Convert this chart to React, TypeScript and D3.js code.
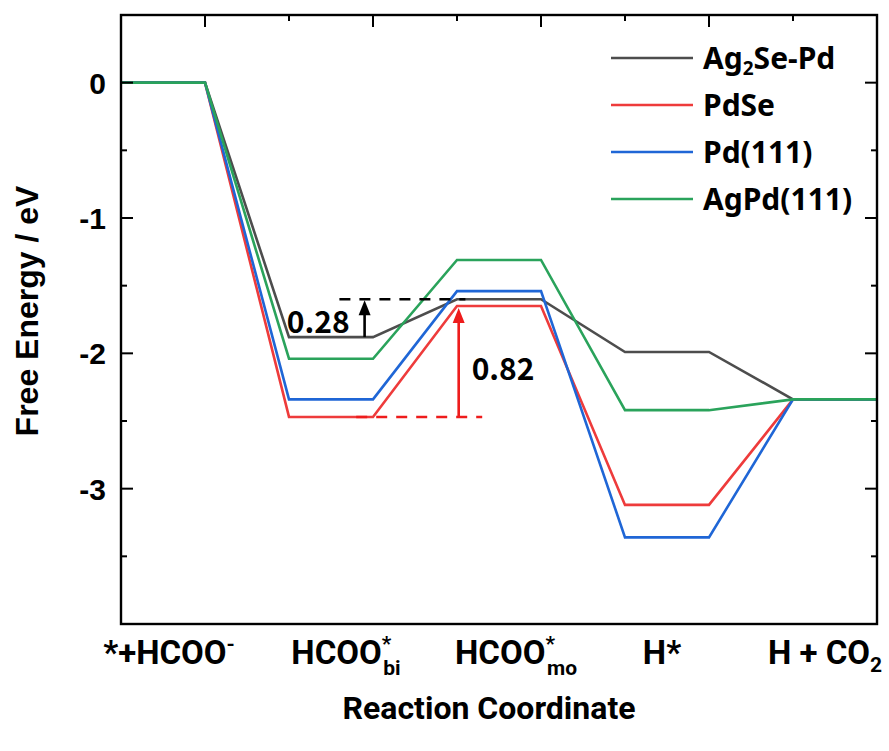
import React from "react";
import * as d3 from "d3";

// Reaction steps along the coordinate (each occupies one flat level)
const stepLabels = ["*+HCOO-", "HCOO*bi", "HCOO*mo", "H*", "H + CO2"];

// Free energies (eV) per step for each surface
const seriesNames = ["Ag2Se-Pd", "PdSe", "Pd(111)", "AgPd(111)"];
const ag2sePd = [0, -1.88, -1.6, -1.99, -2.34];
const pdSe = [0, -2.47, -1.65, -3.12, -2.34];
const pd111 = [0, -2.34, -1.54, -3.36, -2.34];
const agPd111 = [0, -2.04, -1.31, -2.42, -2.34];
const seriesColors = ["#4d4d4d", "#ee3b3b", "#1f66d6", "#2aa35b"];

const yMajorTicks = [0, -1, -2, -3];
const yMinorTicks = [0.5, -0.5, -1.5, -2.5, -3.5];
const xTopTicks = [1, 2, 3, 4, 5, 6, 7, 8];

// Barrier annotations: stated values
const barrierLabels = ["0.28", "0.82"];
const barrierValues = [0.28, 0.82];

const W = 889;
const H = 751;
const M = { left: 121, right: 877, top: 15, bottom: 624 };

export default function App() {
  const x = d3.scaleLinear().domain([0, 9]).range([M.left, M.right]);
  const y = d3.scaleLinear().domain([-4, 0.5]).range([M.bottom, M.top]);

  const allSeries = [ag2sePd, pdSe, pd111, agPd111];
  const line = d3
    .line<[number, number]>()
    .x((d) => x(d[0]))
    .y((d) => y(d[1]));
  const toPoints = (vals: number[]): [number, number][] =>
    vals.flatMap((v, i) => [
      [2 * i, v] as [number, number],
      [2 * i + 1, v] as [number, number],
    ]);

  const tickFont = "'Liberation Sans', Arial, sans-serif";
  const labelFont = "Roboto, 'Liberation Sans', sans-serif";
  const cjkFont = "'Noto Sans CJK JP', 'Noto Sans', sans-serif";
  const legendFont = "'Noto Sans', sans-serif";

  // barrier geometry
  const grayLow = ag2sePd[1];
  const grayHigh = grayLow + barrierValues[0];
  const redLow = pdSe[1];
  const redHigh = redLow + barrierValues[1];

  const arrowHead = (cx: number, tipY: number, color: string) => (
    <path
      d={`M${cx},${tipY} L${cx - 6},${tipY + 15} L${cx + 6},${tipY + 15} Z`}
      fill={color}
    />
  );

  const bx1 = x(2.9);
  const bx2 = x(4.02);

  const labelY = 664;
  const subSize = 21;

  return (
    <svg
      width={W}
      height={H}
      style={{ position: "absolute", left: 0, top: 0, background: "#fff" }}
    >
      {/* data lines */}
      {allSeries.map((s, i) => (
        <path
          key={seriesNames[i]}
          d={line(toPoints(s)) ?? ""}
          fill="none"
          stroke={seriesColors[i]}
          strokeWidth={2.6}
          strokeLinejoin="miter"
        />
      ))}

      {/* Ag2Se-Pd barrier */}
      <line
        x1={x(2.6)}
        x2={x(4.1)}
        y1={y(grayHigh)}
        y2={y(grayHigh)}
        stroke="#000"
        strokeWidth={2.6}
        strokeDasharray="11 9"
      />
      <line x1={bx1} x2={bx1} y1={y(grayLow)} y2={y(grayHigh) + 12} stroke="#000" strokeWidth={2.6} />
      {arrowHead(bx1, y(grayHigh) + 1, "#000")}
      <text
        x={bx1 - 15}
        y={y(grayLow) - 4}
        textAnchor="end"
        fontFamily={cjkFont}
        fontWeight="bold"
        fontSize={30}
        fill="#000"
      >
        {barrierLabels[0]}
      </text>

      {/* PdSe barrier */}
      <line
        x1={x(2.8)}
        x2={x(4.3)}
        y1={y(redLow)}
        y2={y(redLow)}
        stroke="#ee1c1c"
        strokeWidth={2.6}
        strokeDasharray="11 9"
      />
      <line x1={bx2} x2={bx2} y1={y(redLow)} y2={y(redHigh) + 12} stroke="#ee1c1c" strokeWidth={2.6} />
      {arrowHead(bx2, y(redHigh) + 2, "#ee1c1c")}
      <text
        x={bx2 + 13}
        y={y(redHigh) + 74}
        fontFamily={cjkFont}
        fontWeight="bold"
        fontSize={30}
        fill="#000"
      >
        {barrierLabels[1]}
      </text>

      {/* frame */}
      <rect
        x={M.left}
        y={M.top}
        width={M.right - M.left}
        height={M.bottom - M.top}
        fill="none"
        stroke="#000"
        strokeWidth={2.4}
      />

      {/* top ticks (inward) */}
      {xTopTicks.map((t) => (
        <line
          key={"tx" + t}
          x1={x(t)}
          x2={x(t)}
          y1={M.top}
          y2={M.top + (t % 2 === 1 ? 12 : 6)}
          stroke="#000"
          strokeWidth={2}
        />
      ))}

      {/* left & right ticks (inward) */}
      {yMajorTicks.map((t) => (
        <g key={"ty" + t}>
          <line x1={M.left} x2={M.left + 12} y1={y(t)} y2={y(t)} stroke="#000" strokeWidth={2} />
          <line x1={M.right} x2={M.right - 12} y1={y(t)} y2={y(t)} stroke="#000" strokeWidth={2} />
          <text
            x={M.left - 15}
            y={y(t) + 11}
            textAnchor="end"
            fontFamily={tickFont}
            fontWeight="bold"
            fontSize={30}
          >
            {t === 0 ? "0" : `-${Math.abs(t)}`}
          </text>
        </g>
      ))}
      {yMinorTicks.map((t) => (
        <g key={"tm" + t}>
          <line x1={M.left} x2={M.left + 6} y1={y(t)} y2={y(t)} stroke="#000" strokeWidth={2} />
          <line x1={M.right} x2={M.right - 6} y1={y(t)} y2={y(t)} stroke="#000" strokeWidth={2} />
        </g>
      ))}

      {/* step labels */}
      <g fontFamily={labelFont} fontWeight="bold" fontSize={33} fill="#000">
        <text x={x(0.5) + 6} y={labelY} textAnchor="middle">
          <tspan>{"*+HCOO"}</tspan>
          <tspan dy={-13} fontSize={subSize}>
            -
          </tspan>
        </text>
        <text x={x(2.5) + 15} y={labelY} textAnchor="middle">
          <tspan>HCOO</tspan>
          <tspan dy={-13} fontSize={subSize}>
            *
          </tspan>
          <tspan dx={-8} dy={24} fontSize={subSize}>
            bi
          </tspan>
        </text>
        <text x={x(4.5) + 17} y={labelY} textAnchor="middle">
          <tspan>HCOO</tspan>
          <tspan dy={-13} fontSize={subSize}>
            *
          </tspan>
          <tspan dx={-8} dy={24} fontSize={subSize}>
            mo
          </tspan>
        </text>
        <text x={x(6.5) - 5} y={labelY} textAnchor="middle">
          {stepLabels[3]}
        </text>
        <text x={x(8.5) - 10} y={labelY} textAnchor="middle">
          <tspan>{"H + CO"}</tspan>
          <tspan dy={8} fontSize={subSize}>
            2
          </tspan>
        </text>
      </g>

      {/* axis titles */}
      <text
        transform={`translate(38, 311) rotate(-90)`}
        textAnchor="middle"
        fontFamily={tickFont}
        fontWeight="bold"
        fontSize={32}
      >
        Free Energy / eV
      </text>
      <text
        x={489}
        y={719}
        textAnchor="middle"
        fontFamily={labelFont}
        fontWeight="bold"
        fontSize={32}
      >
        Reaction Coordinate
      </text>

      {/* legend */}
      {seriesNames.map((name, i) => {
        const ly = 58 + i * 47;
        return (
          <g key={"lg" + name}>
            <line x1={611} x2={693} y1={ly} y2={ly} stroke={seriesColors[i]} strokeWidth={2.6} />
            <text
              x={703}
              y={ly + 11}
              fontFamily={legendFont}
              fontWeight="bold"
              fontSize={30}
              fill="#000"
            >
              {i === 0 ? (
                <>
                  <tspan>Ag</tspan>
                  <tspan dy={6} fontSize={19}>
                    2
                  </tspan>
                  <tspan dy={-6}>Se-Pd</tspan>
                </>
              ) : (
                name
              )}
            </text>
          </g>
        );
      })}
    </svg>
  );
}
